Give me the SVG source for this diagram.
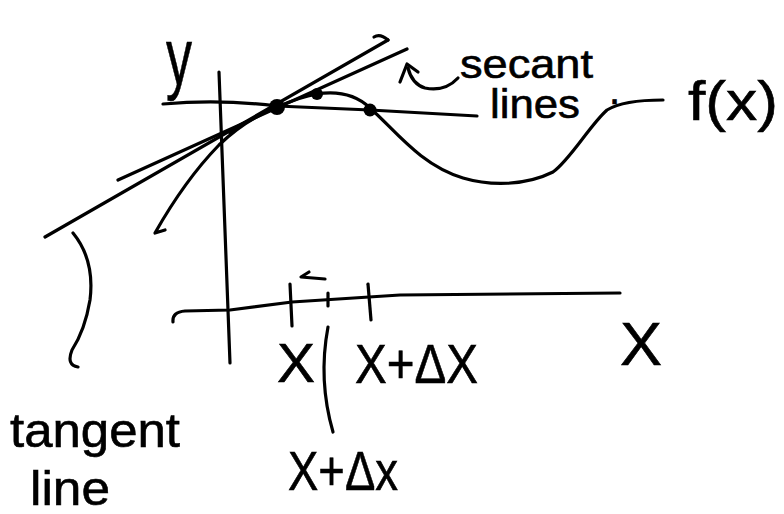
<svg xmlns="http://www.w3.org/2000/svg" width="784" height="514" viewBox="0 0 784 514">
<style>
.s{fill:none;stroke:#000;stroke-width:3.2;stroke-linecap:round;stroke-linejoin:round}
.t{font-family:"Liberation Sans","DejaVu Sans",sans-serif;fill:#000;stroke:#000;stroke-width:0.6}
</style>
<rect width="784" height="514" fill="#fff"/>
<g id="upper-graph">
<path class="s" d="M219,72 L230,363"/>
<path class="s" d="M163,104 Q220,99 277,106 L370,110 L477,116"/>
<path class="s" d="M45,237 L388,40"/>
<path class="s" d="M374,37 Q380,33 388,40"/>
<path class="s" d="M118,180 L407,49"/>
<path class="s" d="M165,230 L155,233 Q185,180 219,145 Q245,120 277,107"/>
<path class="s" d="M230,133 Q255,115 277,107 Q300,97 317,94 Q350,89 370,108 C395,130 420,165 463,178 C490,186 525,186 553,172 C570,160 590,125 607,110 C620,102 640,100 663,100"/>
<circle cx="277" cy="107" r="8"/>
<circle cx="317" cy="94" r="6"/>
<circle cx="370" cy="110" r="6.5"/>
<text class="t" x="166" y="84" font-size="80" textLength="26" lengthAdjust="spacingAndGlyphs">y</text>
<text class="t" x="688" y="120" font-size="56" textLength="90" lengthAdjust="spacingAndGlyphs">f(x)</text>
</g>
<g id="secant-label">
<path class="s" d="M458,78 Q445,92 425,88 Q412,84 408,68"/>
<path class="s" d="M400,82 L407,64 L418,72"/>
<text class="t" x="460" y="78" font-size="40" textLength="133" lengthAdjust="spacingAndGlyphs">secant</text>
<text class="t" x="490" y="118" font-size="40"><tspan textLength="90" lengthAdjust="spacingAndGlyphs">lines</tspan><tspan x="609" y="104">.</tspan></text>
</g>
<g id="lower-axis">
<path class="s" d="M173,322 Q172,312 185,311 L230,310 L292,302 L400,295 L620,293"/>
<path class="s" d="M290,284 L292,326" stroke-width="5"/>
<path class="s" d="M328,293 L328,306"/>
<path class="s" d="M368,284 L371,320"/>
<path class="s" d="M309,272 L301,277 L325,279"/>
<path class="s" d="M328,327 Q318,380 333,432"/>
<text class="t" x="277" y="382" font-size="56" textLength="38" lengthAdjust="spacingAndGlyphs">X</text>
<text class="t" x="355" y="383" font-size="56" textLength="123" lengthAdjust="spacingAndGlyphs">X+ΔX</text>
<text class="t" x="288" y="490" font-size="56" textLength="110" lengthAdjust="spacingAndGlyphs">X+Δx</text>
<text class="t" x="620" y="365" font-size="62" textLength="42" lengthAdjust="spacingAndGlyphs">X</text>
</g>
<g id="tangent-label">
<path class="s" d="M73,233 Q95,260 90,300 Q85,330 72,350 Q66,365 78,367"/>
<text class="t" x="10" y="447" font-size="48" textLength="170" lengthAdjust="spacingAndGlyphs">tangent</text>
<text class="t" x="30" y="505" font-size="48" textLength="80" lengthAdjust="spacingAndGlyphs">line</text>
</g>
</svg>
